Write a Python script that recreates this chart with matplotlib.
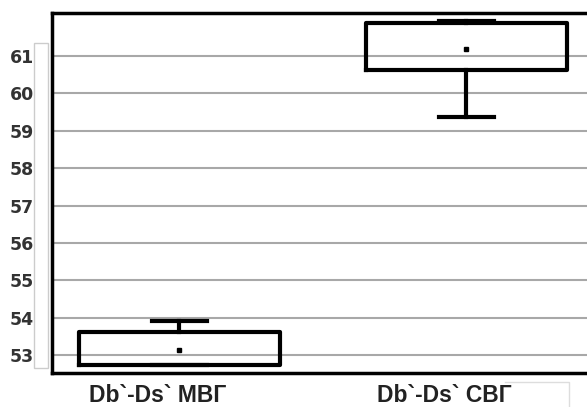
import matplotlib
matplotlib.use("Agg")
import matplotlib.pyplot as plt
from matplotlib.patches import Rectangle
from matplotlib.lines import Line2D
import matplotlib.transforms as mtransforms

# Data
categories = ["Db`-Ds` МВГ", "Db`-Ds` СВГ"]
q1 = [52.73, 60.63]
q3 = [53.61, 61.88]
whislo = [52.73, 59.37]
whishi = [53.91, 61.93]
means = [53.13, 61.19]
yticks = [53, 54, 55, 56, 57, 58, 59, 60, 61]

stats = []
for i, c in enumerate(categories):
    stats.append(dict(label=c, q1=q1[i], q3=q3[i], whislo=whislo[i],
                      whishi=whishi[i], mean=means[i], med=means[i], fliers=[]))

fig = plt.figure(figsize=(5.87, 4.07), dpi=100)
ax = fig.add_axes([52/587, 1 - 373/407, 1 - 52/587 + 0.01, (373 - 13)/407])

ax.set_ylim(52.52, 62.15)
ax.set_xlim(0.557, 2.44)
ax.set_yticks(yticks)
ax.yaxis.grid(True, color="#a8a8a8", linewidth=1.5)
ax.set_axisbelow(True)

positions = [1, 2]
ax.bxp(stats, positions=positions, widths=0.70, capwidths=0.19, showmeans=True,
       showfliers=False,
       boxprops=dict(color="black", linewidth=3),
       whiskerprops=dict(color="black", linewidth=3),
       capprops=dict(color="black", linewidth=3),
       medianprops=dict(linewidth=0),
       meanprops=dict(marker="s", markersize=2.5, markerfacecolor="black",
                      markeredgecolor="black"),
       zorder=3)

ax.set_xticks([])
offset = mtransforms.ScaledTranslation(-22/100, -29/100, fig.dpi_scale_trans)
for p, c in zip(positions, categories):
    ax.text(p, 0, c, transform=ax.get_xaxis_transform() + offset,
            ha="center", va="baseline", fontsize=16.5, fontweight="bold",
            family="Liberation Sans", color="#222222", clip_on=False, zorder=5)

ax.tick_params(axis="y", length=0, pad=13)
for lab in ax.get_yticklabels():
    lab.set_fontsize(12.5)
    lab.set_fontweight("bold")
    lab.set_color("#333333")
    lab.set_family("DejaVu Sans")

for s in ["left", "top", "bottom"]:
    ax.spines[s].set_linewidth(2.5)
    ax.spines[s].set_color("black")
ax.spines["right"].set_visible(False)

# faint artefact frames from the original
fig.patches.append(Rectangle((34/587, 1 - 368/407), 14/587, 325/407,
                             transform=fig.transFigure, fill=False,
                             edgecolor="#cccccc", linewidth=1))
y_top = 1 - 382/407
fig.lines.append(Line2D([505/587, 569/587, 569/587], [y_top, y_top, 0],
                        transform=fig.transFigure, color="#dddddd",
                        linewidth=1, zorder=0))

fig.savefig("out.png", dpi=100, facecolor="white")
